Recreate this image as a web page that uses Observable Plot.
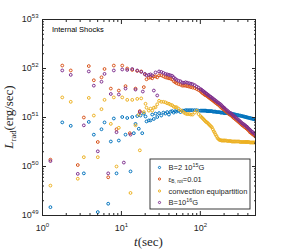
<!DOCTYPE html>
<html><head><meta charset="utf-8">
<script src="https://cdn.jsdelivr.net/npm/d3@7"></script>
<script src="https://cdn.jsdelivr.net/npm/@observablehq/plot@0.6"></script>
<style>
html,body{margin:0;padding:0;background:#fff;}
#chart{width:282px;height:252px;}
</style></head><body><div id="chart"></div>
<script>
const seriesNames = ["B=2 10^15G", "eps_B,rot=0.01", "convection equipartition", "B=10^16G"];
const seriesColors = ["#0072BD", "#D95319", "#EDB120", "#7E2F8E"];
const xTicks = [1, 10, 100];
const yTicks = [1e49, 1e50, 1e51, 1e52, 1e53];
const xMinor = [2,3,4,5,6,7,8,9,20,30,40,50,60,70,80,90,200,300,400];
const yMinor = [49,50,51,52].flatMap(p => [2,3,4,5,6,7,8,9].map(m => m * 10 ** p));

// times (s)
const tEarly = [1.26, 1.78, 2.28, 2.80, 3.34, 3.86, 4.47, 5.02, 5.59, 6.11, 6.80, 7.34, 8.01, 8.67, 9.27];
const tDense = [30,32,34,36,38,40,42,44,46,48,50,53,56,59,62,65,68,72,76,80,85,90,95,100,106,112,118,125,132,140,148,156,165,175,185,195,205,220,235,250,265,280,300,320,340,360,380,400,425,450,475,500];
const tLate = [103,109,115,121.5,128.5,136,144,152,160.5,170,180,190,200,212,227,242,257,272,290,310,330,350,370,390,412,437,462,487];

// log10 of L_rad (erg/s)
const blueEarly   = [49.17, 50.90, 50.83, null, 49.86, 50.91, 50.65, 49.07, 50.76, 50.90, 49.24, 50.51, 50.98, 49.86, 50.53];
const orangeEarly = [50.14, 52.06, 51.96, 50.03, 51.00, 52.05, 51.76, 50.50, 51.82, 51.99, 49.78, 51.59, 52.06, 50.76, 51.55];
const yellowEarly = [49.61, 51.41, 51.32, 49.75, 50.19, 51.40, 51.04, 50.19, 51.17, 51.36, null, 50.87, 51.41, 50.00, 50.79];
const purpleEarly = [50.11, 51.96, 51.87, 49.85, 50.84, 51.94, 51.65, 50.31, 51.73, 51.89, 49.86, 51.48, 51.96, 50.70, 51.47];

const blueMid = [[10.24,51.01],[11.27,50.65],[11.85,50.99],[13.04,49.90],[13.71,51.01],[14.36,50.68],[15.09,50.87],[15.86,51.03],[16.61,50.77],[17.46,51.04],[18.35,50.68],[19.23,51.08],[20.21,51.02],[20.8,50.92],[22.25,50.94],[23.38,50.94],[24.57,51.06],[25.74,50.97],[27.05,51.08],[28.43,51.01]];
const orangeMid = [[10.24,52.06],[11.27,51.64],[11.85,52.00],[12.78,50.68],[13.71,51.97],[15.09,51.59],[15.86,51.95],[17.11,51.13],[17.82,51.94],[19.23,51.62],[19.81,51.88],[20.8,51.78],[22.25,51.81],[23.38,51.82],[24.57,51.80],[25.74,51.84],[27.05,51.84],[28.43,51.82]];
const yellowMid = [[10.24,51.41],[11.85,51.36],[13.04,49.46],[13.71,51.36],[15.09,50.84],[15.86,51.38],[16.61,51.06],[17.11,50.33],[17.82,51.39],[19.23,51.11],[20.21,51.28],[20.8,51.20],[22.25,51.14],[23.38,51.18],[24.57,51.14],[25.74,51.20],[27.05,51.21],[28.43,51.27]];
const purpleMid = [[10.24,51.98],[10.73,50.08],[11.27,51.59],[11.85,51.97],[13.04,50.65],[13.71,51.99],[15.09,51.57],[15.86,51.96],[17.11,51.11],[17.82,51.93],[18.67,51.53],[19.81,51.89],[20.8,51.86],[22.25,51.87],[23.38,51.88],[24.57,51.86],[25.74,51.55],[27.05,51.92],[28.43,51.45]];

const blueDense   = [51.09,51.04,51.10,51.08,51.11,51.06,51.12,51.13,51.10,51.13,51.12,51.14,51.11,51.14,51.14,51.15,51.15,51.15,51.15,51.15,51.15,51.15,51.14,51.14,51.14,51.14,51.14,51.13,51.13,51.13,51.12,51.12,51.11,51.11,51.10,51.10,51.09,51.09,51.08,51.08,51.07,51.06,51.05,51.04,51.03,51.02,51.01,51.00,50.99,50.98,50.97,50.96];
const orangeDense = [51.86,51.86,51.84,51.82,51.81,51.80,51.79,51.78,51.74,51.72,51.70,51.68,51.67,51.65,51.65,51.65,51.64,51.63,51.62,51.61,51.60,51.58,51.56,51.54,51.50,51.47,51.45,51.42,51.39,51.36,51.33,51.30,51.27,51.24,51.20,51.17,51.14,51.10,51.06,51.03,50.99,50.96,50.92,50.88,50.84,50.81,50.78,50.75,50.70,50.67,50.64,50.61];
const yellowDense = [51.34,51.32,51.32,51.31,51.29,51.28,51.26,51.25,51.22,51.21,51.21,51.18,51.15,51.13,51.10,51.08,51.07,51.07,51.06,51.06,51.10,51.14,51.07,51.03,50.99,50.95,50.91,50.88,50.84,50.80,50.72,50.65,50.58,50.54,50.53,50.53,50.53,50.52,50.52,50.51,50.51,50.51,50.51,50.50,50.50,50.50,50.50,50.50,50.49,50.49,50.49,50.49];
const purpleDense = [51.94,51.93,51.91,51.89,51.88,51.87,51.86,51.85,51.82,51.79,51.77,51.75,51.74,51.71,51.71,51.72,51.71,51.70,51.69,51.68,51.66,51.63,51.61,51.58,51.55,51.52,51.49,51.46,51.43,51.40,51.37,51.34,51.31,51.28,51.25,51.21,51.18,51.14,51.10,51.07,51.03,51.00,50.96,50.92,50.88,50.85,50.82,50.79,50.75,50.71,50.68,50.65];

const blueLate   = [51.14,51.14,51.14,51.13,51.13,51.13,51.12,51.12,51.11,51.11,51.10,51.10,51.09,51.09,51.08,51.08,51.07,51.06,51.05,51.04,51.03,51.02,51.01,51.00,50.99,50.98,50.97,50.96];
const orangeLate = [51.52,51.49,51.46,51.44,51.41,51.38,51.35,51.32,51.29,51.26,51.22,51.19,51.16,51.12,51.08,51.05,51.01,50.98,50.94,50.90,50.86,50.83,50.80,50.77,50.73,50.69,50.66,50.63];
const yellowLate = [51.01,50.97,50.93,50.90,50.86,50.82,50.76,50.69,50.62,50.56,50.54,50.53,50.53,50.53,50.52,50.52,50.51,50.51,50.51,50.51,50.50,50.50,50.50,50.50,50.50,50.49,50.49,50.49];
const purpleLate = [51.57,51.54,51.51,51.48,51.45,51.42,51.39,51.36,51.33,51.30,51.27,51.23,51.20,51.16,51.12,51.09,51.05,51.02,50.98,50.94,50.90,50.87,50.84,50.81,50.77,50.73,50.70,50.67];

function rows(name, early, mid, dense, late) {
  const out = [];
  tEarly.forEach((t, i) => { if (early[i] != null) out.push({t, L: 10 ** early[i], s: name}); });
  mid.forEach(([t, e]) => out.push({t, L: 10 ** e, s: name}));
  tDense.forEach((t, i) => out.push({t, L: 10 ** dense[i], s: name}));
  tLate.forEach((t, i) => out.push({t, L: 10 ** late[i], s: name}));
  return out;
}
const data = [
  ...rows(seriesNames[0], blueEarly, blueMid, blueDense, blueLate),
  ...rows(seriesNames[1], orangeEarly, orangeMid, orangeDense, orangeLate),
  ...rows(seriesNames[2], yellowEarly, yellowMid, yellowDense, yellowLate),
  ...rows(seriesNames[3], purpleEarly, purpleMid, purpleDense, purpleLate)
];

const ink = "#262626";
const noText = () => "";
const sup = d => "10^" + Math.round(Math.log10(d));

const chart = Plot.plot({
  width: 282, height: 252,
  marginLeft: 42, marginRight: 27, marginTop: 19, marginBottom: 37,
  style: {fontFamily: "'Liberation Sans', Arial, sans-serif", background: "#fff", color: ink},
  x: {type: "log", domain: [1, 500]},
  y: {type: "log", domain: [1e49, 1e53]},
  color: {domain: seriesNames, range: seriesColors},
  marks: [
    Plot.dot(data, {x: "t", y: "L", stroke: "s", r: 1.4, strokeWidth: 1, fill: "none", clip: true}),
    Plot.frame({stroke: ink, strokeWidth: 1}),
    Plot.axisX(xTicks, {anchor: "bottom", tickSize: -4, tickFormat: noText, color: ink, label: null}),
    Plot.axisX(xTicks, {anchor: "top", tickSize: -4, tickFormat: noText, color: ink, label: null}),
    Plot.axisX(xMinor, {anchor: "bottom", tickSize: -2, tickFormat: noText, color: ink, label: null}),
    Plot.axisX(xMinor, {anchor: "top", tickSize: -2, tickFormat: noText, color: ink, label: null}),
    Plot.axisY(yTicks, {anchor: "left", tickSize: -4, tickFormat: noText, color: ink, label: null}),
    Plot.axisY(yTicks, {anchor: "right", tickSize: -4, tickFormat: noText, color: ink, label: null}),
    Plot.axisY(yMinor, {anchor: "left", tickSize: -2, tickFormat: noText, color: ink, label: null}),
    Plot.axisY(yMinor, {anchor: "right", tickSize: -2, tickFormat: noText, color: ink, label: null}),
    Plot.axisX(xTicks, {anchor: "bottom", tickSize: 0, tickPadding: 9, tickFormat: sup, fontSize: 9, color: ink, label: null}),
    Plot.axisY(yTicks, {anchor: "left", tickSize: 0, tickPadding: 4, tickFormat: sup, fontSize: 9, color: ink, label: null})
  ]
});
document.getElementById("chart").appendChild(chart);

const svg = d3.select(chart);
svg.selectAll("text").each(function () {
  const m = /^10\^(\d+)$/.exec(this.textContent);
  if (m) {
    this.textContent = "";
    const s = d3.select(this);
    s.append("tspan").text("10");
    s.append("tspan").attr("dy", -4).attr("font-size", 6).text(m[1]);
  }
});

// annotation
svg.append("text").attr("x", 52).attr("y", 31.5).attr("text-anchor", "start")
  .attr("font-size", 7.5).style("fill", "#000").text("Internal Shocks");

// axis titles
const serif = "'Liberation Serif', 'Times New Roman', serif";
const yl = svg.append("text").attr("transform", "translate(13,117) rotate(-90)")
  .attr("text-anchor", "middle").attr("font-family", serif).attr("font-size", 13).style("fill", ink);
yl.append("tspan").attr("font-style", "italic").text("L");
yl.append("tspan").attr("font-size", 8.5).attr("dy", 2.5).text("rad");
yl.append("tspan").attr("dy", -2.5).text("(erg/sec)");
const xl = svg.append("text").attr("x", 148.5).attr("y", 246)
  .attr("text-anchor", "middle").attr("font-family", serif).attr("font-size", 13).style("fill", ink);
xl.append("tspan").attr("font-style", "italic").text("t");
xl.append("tspan").text("(sec)");

// legend
const lg = svg.append("g").attr("text-anchor", "start");
lg.append("rect").attr("x", 150).attr("y", 159).attr("width", 100).attr("height", 50)
  .attr("fill", "#fff").attr("stroke", ink).attr("stroke-width", 0.9);
const rowY = [167.5, 179, 191, 202.5];
seriesColors.forEach((c, i) => {
  lg.append("circle").attr("cx", 159.5).attr("cy", rowY[i]).attr("r", 1.1)
    .attr("fill", "none").attr("stroke", c).attr("stroke-width", 1);
});
const lt = i => lg.append("text").attr("x", 168.5).attr("y", rowY[i] + 2.8).attr("text-anchor", "start")
  .attr("font-size", 7.5).style("fill", ink);
let t0 = lt(0); t0.append("tspan").text("B=2 10"); t0.append("tspan").attr("dy", -3.2).attr("font-size", 5.3).text("15"); t0.append("tspan").attr("dy", 3.2).text("G");
let t1 = lt(1); t1.append("tspan").attr("font-size", 6.3).text("\u03B5"); t1.append("tspan").attr("dy", 1.5).attr("font-size", 4.8).text("B, rot"); t1.append("tspan").attr("dy", -1.5).text("=0.01");
lt(2).text("convection equipartition");
let t3 = lt(3); t3.append("tspan").text("B=10"); t3.append("tspan").attr("dy", -3.2).attr("font-size", 5.3).text("16"); t3.append("tspan").attr("dy", 3.2).text("G");
</script></body></html>
